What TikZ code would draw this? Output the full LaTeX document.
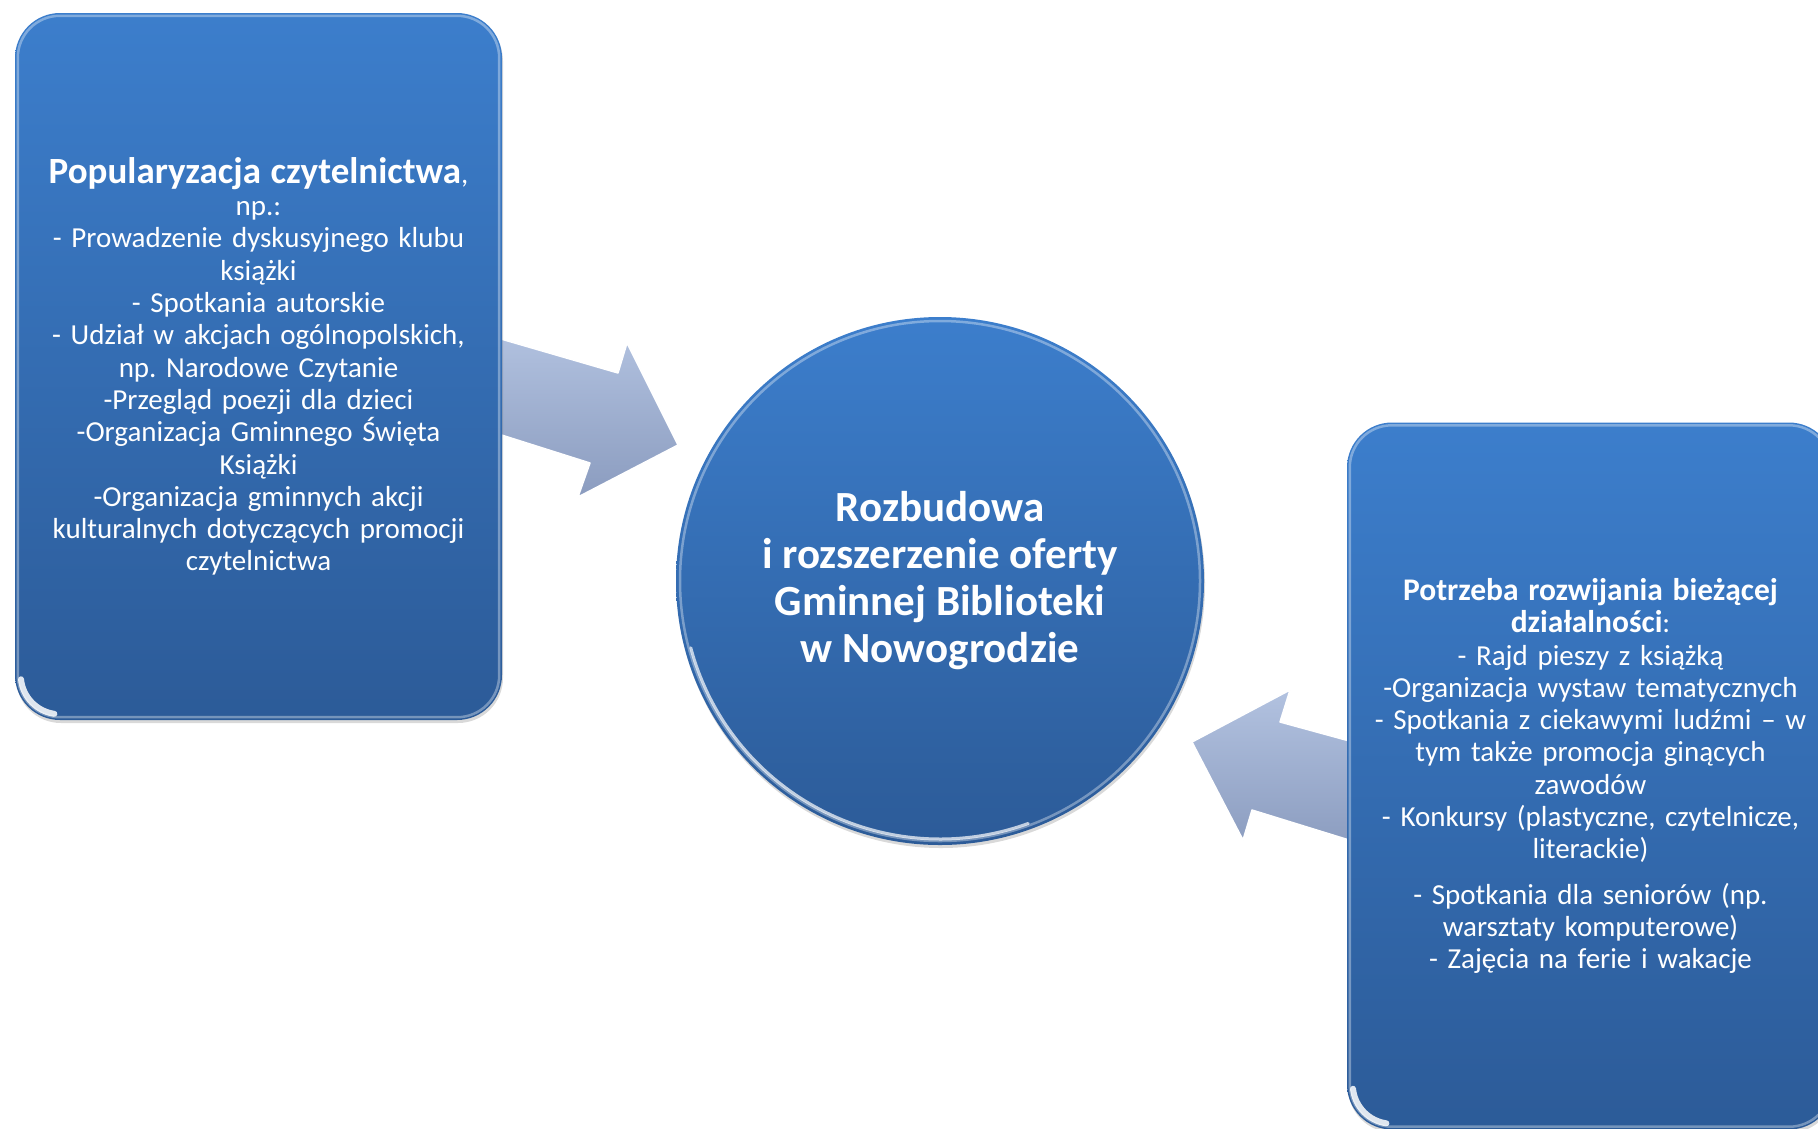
\documentclass[tikz,border=0pt]{standalone}
\usepackage{fontspec}
\setmainfont{Carlito}
\usetikzlibrary{positioning,shadows}
\frenchspacing

\definecolor{paneltop}{HTML}{3C7ECC}
\definecolor{panelbot}{HTML}{2C5B98}
\definecolor{arrowtop}{HTML}{B2C2E0}
\definecolor{arrowbot}{HTML}{8B9CBF}

\newcommand{\bodysize}{\fontsize{29}{32.3}\selectfont}

\begin{document}
\begin{tikzpicture}[x=1pt,y=-1pt,node distance=100pt,on grid,
    panel/.style={rounded corners=45pt,minimum width=487pt,minimum height=707pt,
        top color=paneltop,bottom color=panelbot,text=white,align=center,
        text width=470pt,font=\bodysize,
        drop shadow={opacity=.3,shadow xshift=1pt,shadow yshift=-3pt}},
    hub/.style={circle,minimum size=528pt,top color=paneltop,bottom color=panelbot,
        text=white,align=center,font=\fontsize{43}{47}\selectfont\bfseries,
        drop shadow={opacity=.3,shadow xshift=1pt,shadow yshift=-3pt}},
    flow/.style={top color=arrowtop,bottom color=arrowbot,draw=white,line width=1.5pt,line join=round},
    rim/.style={draw=white,draw opacity=.35,line width=2.5pt},
    glint/.style={draw=white,line width=6pt,line cap=round,opacity=.85}]

    \useasboundingbox (0,0) rectangle (1818,1128);

    % arrows behind the panels
    \path[flow] (470,330) -- (618,373) -- (627,343) -- (678,445) -- (578,497) -- (590,463) -- (470,425) -- cycle;
    \path[flow] (1375,748) -- (1280,722) -- (1290,690) -- (1192,742) -- (1243,840) -- (1252,810) -- (1375,848) -- cycle;

    \node[hub] (hub) at (940,581) {Rozbudowa\\ i rozszerzenie oferty\\ Gminnej Biblioteki\\ w Nowogrodzie};

    \node[panel] (left) [above left=214.5pt and 681.5pt of hub]
        {{\fontsize{37}{37}\selectfont\bfseries Popularyzacja czytelnictwa},\\
         np.:\\
         - Prowadzenie dyskusyjnego klubu\\
         książki\\
         - Spotkania autorskie\\
         - Udział w akcjach ogólnopolskich,\\
         np. Narodowe Czytanie\\
         -Przegląd poezji dla dzieci\\
         -Organizacja Gminnego Święta\\
         Książki\\
         -Organizacja gminnych akcji\\
         kulturalnych dotyczących promocji\\
         czytelnictwa};

    \node[panel] (right) [below right=195pt and 650.5pt of hub]
        {{\fontsize{31.5}{36}\selectfont\bfseries Potrzeba rozwijania bieżącej\\ działalności}:\\
         - Rajd pieszy z książką\\
         -Organizacja wystaw tematycznych\\
         - Spotkania z ciekawymi ludźmi – w\\
         tym także promocja ginących\\
         zawodów\\
         - Konkursy (plastyczne, czytelnicze,\\
         literackie)\\[13pt]
         - Spotkania dla seniorów (np.\\
         warsztaty komputerowe)\\
         - Zajęcia na ferie i wakacje};

    % glossy edges
    \draw[rim,rounded corners=42pt] ([shift={(3pt,3pt)}]left.south west) rectangle ([shift={(-3pt,-3pt)}]left.north east);
    \draw[rim,rounded corners=42pt] ([shift={(3pt,3pt)}]right.south west) rectangle ([shift={(-3pt,-3pt)}]right.north east);
    \draw[rim] (hub.center) circle[radius=260pt];
    \draw[glint] (left.south west) ++(45pt,45pt) ++(186:39pt) arc[start angle=186,end angle=262,radius=39pt];
    \draw[glint] (right.south west) ++(45pt,45pt) ++(186:39pt) arc[start angle=186,end angle=262,radius=39pt];
    \draw[glint,line width=3pt,opacity=.7] (hub.center) ++(195:258pt) arc[start angle=195,end angle=290,radius=258pt];
\end{tikzpicture}
\end{document}
